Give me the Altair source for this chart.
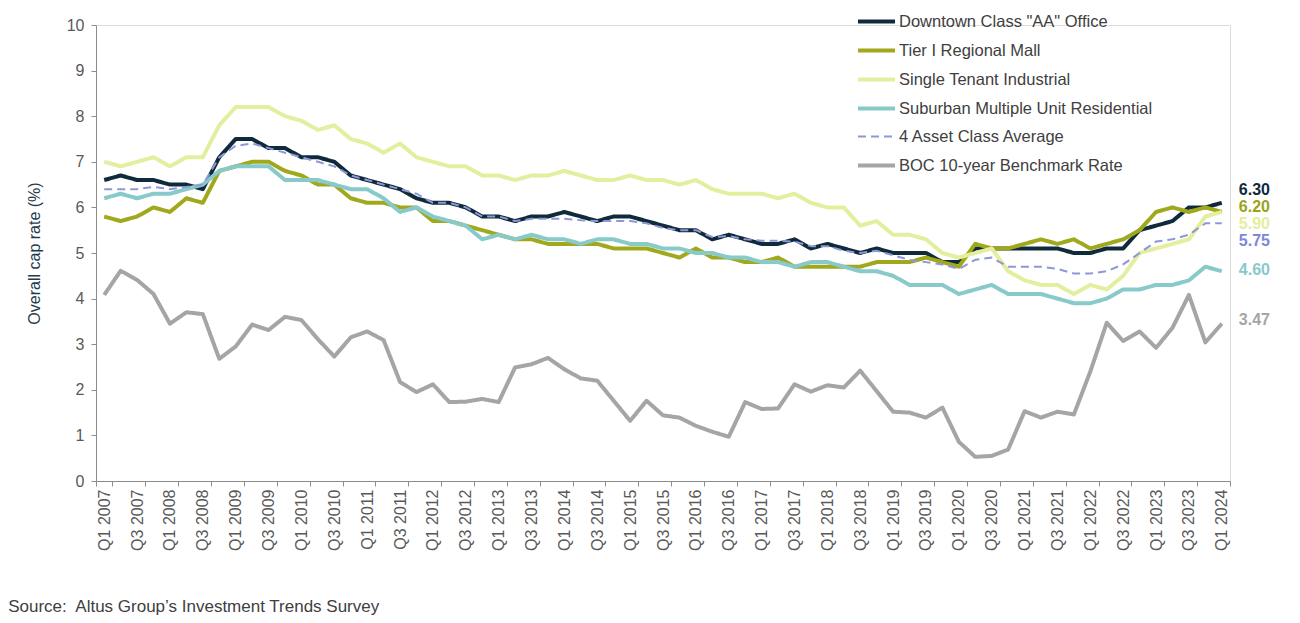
import altair as alt
import pandas as pd

# ---------------- data ----------------
years = list(range(2007, 2025))
quarter_names = ["Q1", "Q2", "Q3", "Q4"]
quarters = [f"{q} {y}" for y in years for q in quarter_names][:69]  # Q1 2007 .. Q1 2024
tick_quarters = quarters[::2]

series_names = [
    'Downtown Class "AA" Office',
    "Tier I Regional Mall",
    "Single Tenant Industrial",
    "Suburban Multiple Unit Residential",
    "4 Asset Class Average",
    "BOC 10-year Benchmark Rate",
]

office = [6.6, 6.7, 6.6, 6.6, 6.5, 6.5, 6.4, 7.1, 7.5, 7.5,
          7.3, 7.3, 7.1, 7.1, 7.0, 6.7, 6.6, 6.5, 6.4, 6.2,
          6.1, 6.1, 6.0, 5.8, 5.8, 5.7, 5.8, 5.8, 5.9, 5.8,
          5.7, 5.8, 5.8, 5.7, 5.6, 5.5, 5.5, 5.3, 5.4, 5.3,
          5.2, 5.2, 5.3, 5.1, 5.2, 5.1, 5.0, 5.1, 5.0, 5.0,
          5.0, 4.8, 4.8, 5.1, 5.1, 5.1, 5.1, 5.1, 5.1, 5.0,
          5.0, 5.1, 5.1, 5.5, 5.6, 5.7, 6.0, 6.0, 6.1]
mall = [5.8, 5.7, 5.8, 6.0, 5.9, 6.2, 6.1, 6.8, 6.9, 7.0,
        7.0, 6.8, 6.7, 6.5, 6.5, 6.2, 6.1, 6.1, 6.0, 6.0,
        5.7, 5.7, 5.6, 5.5, 5.4, 5.3, 5.3, 5.2, 5.2, 5.2,
        5.2, 5.1, 5.1, 5.1, 5.0, 4.9, 5.1, 4.9, 4.9, 4.8,
        4.8, 4.9, 4.7, 4.7, 4.7, 4.7, 4.7, 4.8, 4.8, 4.8,
        4.9, 4.8, 4.7, 5.2, 5.1, 5.1, 5.2, 5.3, 5.2, 5.3,
        5.1, 5.2, 5.3, 5.5, 5.9, 6.0, 5.9, 6.0, 5.9]
industrial = [7.0, 6.9, 7.0, 7.1, 6.9, 7.1, 7.1, 7.8, 8.2, 8.2,
              8.2, 8.0, 7.9, 7.7, 7.8, 7.5, 7.4, 7.2, 7.4, 7.1,
              7.0, 6.9, 6.9, 6.7, 6.7, 6.6, 6.7, 6.7, 6.8, 6.7,
              6.6, 6.6, 6.7, 6.6, 6.6, 6.5, 6.6, 6.4, 6.3, 6.3,
              6.3, 6.2, 6.3, 6.1, 6.0, 6.0, 5.6, 5.7, 5.4, 5.4,
              5.3, 5.0, 4.9, 5.0, 5.1, 4.6, 4.4, 4.3, 4.3, 4.1,
              4.3, 4.2, 4.5, 5.0, 5.1, 5.2, 5.3, 5.8, 5.9]
residential = [6.2, 6.3, 6.2, 6.3, 6.3, 6.4, 6.5, 6.8, 6.9, 6.9,
               6.9, 6.6, 6.6, 6.6, 6.5, 6.4, 6.4, 6.2, 5.9, 6.0,
               5.8, 5.7, 5.6, 5.3, 5.4, 5.3, 5.4, 5.3, 5.3, 5.2,
               5.3, 5.3, 5.2, 5.2, 5.1, 5.1, 5.0, 5.0, 4.9, 4.9,
               4.8, 4.8, 4.7, 4.8, 4.8, 4.7, 4.6, 4.6, 4.5, 4.3,
               4.3, 4.3, 4.1, 4.2, 4.3, 4.1, 4.1, 4.1, 4.0, 3.9,
               3.9, 4.0, 4.2, 4.2, 4.3, 4.3, 4.4, 4.7, 4.6]
average = [6.4, 6.4, 6.4, 6.45, 6.4, 6.45, 6.5, 7.1, 7.35, 7.4,
           7.3, 7.2, 7.1, 7.0, 6.9, 6.7, 6.6, 6.5, 6.4, 6.3,
           6.1, 6.1, 6.0, 5.8, 5.8, 5.7, 5.75, 5.75, 5.75, 5.72,
           5.7, 5.7, 5.7, 5.65, 5.55, 5.5, 5.5, 5.35, 5.37, 5.3,
           5.27, 5.27, 5.25, 5.15, 5.15, 5.05, 5.0, 5.05, 4.95, 4.85,
           4.8, 4.75, 4.65, 4.85, 4.9, 4.7, 4.7, 4.7, 4.65, 4.55,
           4.55, 4.6, 4.75, 5.0, 5.25, 5.3, 5.4, 5.65, 5.65]
boc = [4.08, 4.61, 4.41, 4.1, 3.45, 3.7, 3.66, 2.68, 2.95, 3.43,
       3.31, 3.6, 3.53, 3.11, 2.73, 3.15, 3.28, 3.09, 2.17, 1.95,
       2.12, 1.73, 1.74, 1.8, 1.73, 2.49, 2.56, 2.7, 2.45, 2.25,
       2.2, 1.76, 1.32, 1.76, 1.44, 1.39, 1.21, 1.08, 0.97, 1.73,
       1.58, 1.59, 2.12, 1.96, 2.1, 2.05, 2.42, 1.97, 1.52, 1.5,
       1.39, 1.61, 0.86, 0.53, 0.55, 0.69, 1.53, 1.39, 1.52, 1.46,
       2.4, 3.47, 3.07, 3.28, 2.92, 3.36, 4.08, 3.04, 3.45]

# end-of-line labels, in series order
end_labels = ["6.30", "6.20", "5.90", "4.60", "5.75", "3.47"]
source_text = "Source:\u00a0 Altus Group\u2019s Investment Trends Survey"

# ---------------- styles ----------------
line_colors = ["#0e2a3b", "#a0a81c", "#e3ee9e", "#88c9ca", "#8e97d8", "#a5a5a5"]
label_colors = ["#0e2a3b", "#9aa31a", "#e3ee9e", "#88c9ca", "#7b89d6", "#a5a5a5"]
label_dy = [-13, -5, 12, -1, 17.6, -4]
dashes = [[1, 0], [1, 0], [1, 0], [1, 0], [8, 5], [1, 0]]
widths = [4, 4, 4, 4, 2, 4]
FONT = "Liberation Sans"

all_series = [office, mall, industrial, residential, average, boc]
rows = []
for name, vals in zip(series_names, all_series):
    for q, v in zip(quarters, vals):
        rows.append({"quarter": q, "series": name, "value": v})
df = pd.DataFrame(rows)

W, H = 1134, 456

x_scale = alt.Scale(type="band", domain=quarters, paddingInner=0, paddingOuter=0)
y_scale = alt.Scale(domain=[0, 10], nice=False, zero=True)

x_axis = alt.Axis(
    values=tick_quarters, labelAngle=270, labelFontSize=16, labelFont=FONT,
    labelColor="#595959", tickBand="extent", tickSize=5, tickColor="#8c8c8c",
    domainColor="#8c8c8c", labelPadding=3, labelOverlap=False, title=None,
    grid=False,
)
y_axis = alt.Axis(
    values=list(range(0, 11)), labelFontSize=16, labelFont=FONT, labelColor="#595959",
    tickSize=5, tickColor="#8c8c8c", domainColor="#8c8c8c", labelPadding=7,
    title="Overall cap rate (%)", titleFont=FONT, titleFontSize=16,
    titleFontWeight="normal", titleColor="#1f3b4d", titlePadding=24, grid=False,
)

legend = alt.Legend(
    title=None, orient="none", legendX=760, legendY=-24, symbolType="stroke",
    symbolSize=1369, symbolStrokeWidth=4, labelFontSize=16.5, labelFont=FONT,
    labelColor="#404040", labelOffset=2, rowPadding=-0.5, padding=0, labelLimit=400,
)

lines = alt.Chart(df).mark_line(strokeJoin="round").encode(
    x=alt.X("quarter:N", sort=quarters, scale=x_scale, axis=x_axis),
    y=alt.Y("value:Q", scale=y_scale, axis=y_axis),
    color=alt.Color("series:N", sort=series_names,
                    scale=alt.Scale(domain=series_names, range=line_colors), legend=legend),
    strokeDash=alt.StrokeDash("series:N", sort=series_names,
                              scale=alt.Scale(domain=series_names, range=dashes), legend=legend),
    strokeWidth=alt.StrokeWidth("series:N", sort=series_names,
                                scale=alt.Scale(type="ordinal", domain=series_names, range=widths),
                                legend=legend),
    order=alt.Order("quarter_idx:Q"),
).transform_calculate(
    quarter_idx="indexof(" + str(quarters).replace("'", '"') + ", datum.quarter)"
)

layers = [lines]
for name, vals, lab, col, dy in zip(series_names, all_series, end_labels, label_colors, label_dy):
    ldf = pd.DataFrame({"quarter": [quarters[-1]], "value": [vals[-1]], "label": [lab]})
    layers.append(
        alt.Chart(ldf).mark_text(
            align="left", baseline="middle", dx=17, dy=dy, fontSize=16, fontWeight="bold",
            font=FONT, color=col,
        ).encode(
            x=alt.X("quarter:N", scale=x_scale),
            y=alt.Y("value:Q", scale=y_scale),
            text="label:N",
        )
    )

chart = alt.layer(*layers).properties(
    width=W, height=H,
    autosize=alt.AutoSizeParams(type="none"),
    padding={"left": 88, "top": 17, "right": 62, "bottom": 134},
    title=alt.TitleParams(
        source_text, orient="bottom", anchor="start", fontSize=17, font=FONT,
        fontWeight="normal", color="#404040", dx=-18, offset=49,
    ),
).configure_view(stroke=None).configure(background="white")

chart.save("out.html", embed_options={"renderer": "svg", "actions": False})
